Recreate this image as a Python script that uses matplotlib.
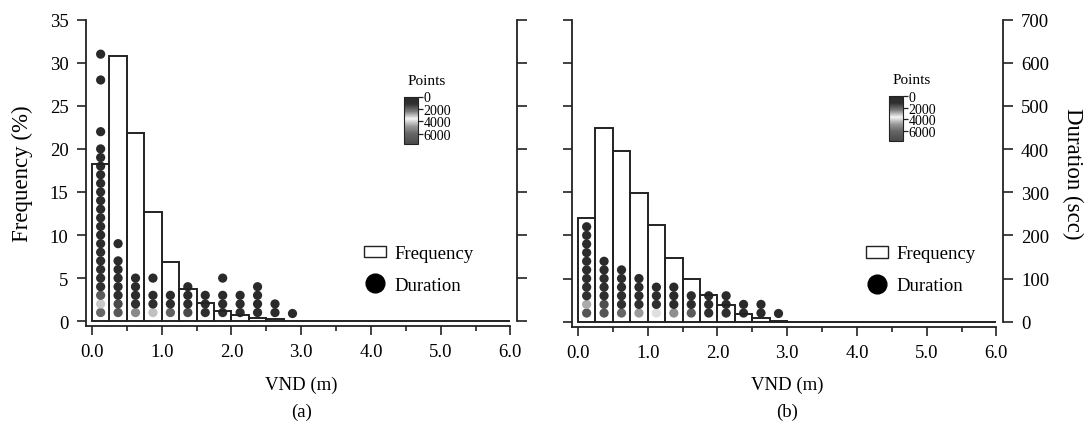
import numpy as np
import matplotlib
matplotlib.use('Agg')
import matplotlib.pyplot as plt
from matplotlib.colors import LinearSegmentedColormap, Normalize
from matplotlib.cm import ScalarMappable
from matplotlib.ticker import MultipleLocator, FormatStrFormatter
from matplotlib.patches import Patch
from matplotlib.lines import Line2D

plt.rcParams['font.family'] = ['Liberation Serif', 'DejaVu Serif']

# ── Data ──────────────────────────────────────────────────────────────────────
bin_edges = [0.0, 0.25, 0.5, 0.75, 1.0, 1.25, 1.5, 1.75, 2.0, 2.25, 2.5, 2.75,
             3.0, 3.25, 3.5, 3.75, 4.0, 4.25, 4.5, 4.75, 5.0, 5.25, 5.5, 5.75, 6.0]

# frequency (%) per VND bin
freq_a = [18.3, 30.8, 21.8, 12.7, 6.9, 3.7, 2.1, 1.2, 0.7, 0.4, 0.2, 0.05,
          0, 0, 0, 0, 0, 0, 0, 0, 0, 0, 0, 0]
freq_b = [12.0, 22.4, 19.8, 14.9, 11.2, 7.4, 5.0, 3.05, 1.9, 0.9, 0.4, 0.1,
          0, 0, 0, 0, 0, 0, 0, 0, 0, 0, 0, 0]

# durations (sec) observed in each bin, and number of points for each
dur_a = [
    [20, 40, 60, 80, 100, 120, 140, 160, 180, 200, 220, 240, 260, 280, 300,
     320, 340, 360, 380, 400, 440, 560, 620],
    [20, 40, 60, 80, 100, 120, 140, 180],
    [20, 40, 60, 80, 100],
    [20, 40, 60, 100],
    [20, 40, 60],
    [20, 40, 60, 80],
    [20, 40, 60],
    [20, 40, 60, 100],
    [20, 40, 60],
    [20, 40, 60, 80],
    [20, 40],
    [20],
]
pts_a = [
    [6000, 4200, 1900, 1100, 900, 800, 700, 600, 500, 450, 400, 350, 300, 260,
     220, 190, 160, 130, 110, 90, 60, 30, 20],
    [6900, 1600, 900, 600, 400, 250, 150, 60],
    [5200, 1000, 500, 300, 150],
    [4300, 800, 300, 80],
    [2000, 500, 200],
    [1600, 400, 200, 80],
    [1000, 300, 100],
    [800, 250, 100, 30],
    [600, 150, 50],
    [400, 100, 50, 20],
    [250, 60],
    [100],
]

dur_b = [
    [20, 40, 60, 80, 100, 120, 140, 160, 180, 200, 220],
    [20, 40, 60, 80, 100, 120, 140],
    [20, 40, 60, 80, 100, 120],
    [20, 40, 60, 80, 100],
    [20, 40, 60, 80],
    [20, 40, 60, 80],
    [20, 40, 60],
    [20, 40, 60],
    [20, 40, 60],
    [20, 40],
    [20, 40],
    [20],
]
pts_b = [
    [7000, 4600, 1000, 800, 600, 500, 400, 300, 200, 150, 100],
    [7000, 1700, 900, 600, 400, 250, 100],
    [6000, 1200, 800, 500, 300, 100],
    [4800, 1000, 600, 300, 100],
    [3900, 900, 400, 150],
    [2600, 700, 300, 100],
    [1900, 500, 150],
    [1200, 300, 80],
    [800, 200, 60],
    [500, 100],
    [300, 60],
    [100],
]

freq_ticks = [0, 5, 10, 15, 20, 25, 30, 35]
dur_ticks = [0, 100, 200, 300, 400, 500, 600, 700]
vnd_ticks = [0.0, 1.0, 2.0, 3.0, 4.0, 5.0, 6.0]
cbar_ticks = [0, 2000, 4000, 6000]

# ── Style ─────────────────────────────────────────────────────────────────────
INK = '#222222'
FS = 13.5        # x label, panel tags
FS_TICK = 13.5   # tick labels
FS_LEG = 13.5    # legend
FS_YLAB = 16.5   # vertical axis titles
points_cmap = LinearSegmentedColormap.from_list('points', [
    (0.0, '#2a2a2a'), (1200 / 7700, '#303030'), (2400 / 7700, '#7a7a7a'),
    (3600 / 7700, '#f5f5f5'), (4800 / 7700, '#9a9a9a'),
    (6000 / 7700, '#666666'), (1.0, '#4a4a4a')])
points_norm = Normalize(0, 7700)

XLIM = (-0.085, 6.095)
YLIM = (-0.56, 35)
DUR_SCALE = 20  # 1 % frequency <-> 20 s on the right axis

fig = plt.figure(figsize=(10.88, 4.35), dpi=100)
W, H = 1088, 435


def px_rect(x0, y0, x1, y1):
    return [x0 / W, 1 - y1 / H, (x1 - x0) / W, (y1 - y0) / H]


def panel(rect, freq, dur, pts, tag, left_labels, right_labels, cbar_px, leg_x):
    ax = fig.add_axes(rect)
    axr = ax.twinx()
    ax.set_zorder(axr.get_zorder() + 1)
    ax.patch.set_visible(False)

    edges = np.array(bin_edges)
    centers = (edges[:-1] + edges[1:]) / 2
    widths = np.diff(edges)

    # duration dots (right axis)
    for c, d, p in zip(centers, dur, pts):
        axr.scatter(np.full(len(d), c), d, c=p, cmap=points_cmap,
                    norm=points_norm, s=44, linewidths=0, zorder=2)

    # frequency histogram (left axis), hollow bars drawn over the dots
    ax.bar(edges[:-1], freq, width=widths, align='edge', facecolor='none',
           edgecolor=INK, linewidth=1.4, zorder=3)

    ax.set_xlim(*XLIM)
    ax.set_ylim(*YLIM)
    axr.set_ylim(YLIM[0] * DUR_SCALE, YLIM[1] * DUR_SCALE)

    for s in ['top', 'right']:
        ax.spines[s].set_visible(False)
    for s in ['top', 'left', 'bottom']:
        axr.spines[s].set_visible(False)
    for sp in [ax.spines['left'], ax.spines['bottom'], axr.spines['right']]:
        sp.set_linewidth(1.3)
        sp.set_color(INK)
    ax.spines['left'].set_bounds(YLIM[0], 35)
    ax.spines['bottom'].set_bounds(XLIM[0], 6.0)
    axr.spines['right'].set_bounds(0, 700)

    ax.set_xticks(vnd_ticks)
    ax.xaxis.set_major_formatter(FormatStrFormatter('%.1f'))
    ax.xaxis.set_minor_locator(MultipleLocator(0.5))
    ax.set_yticks(freq_ticks)
    axr.set_yticks(dur_ticks)
    ax.tick_params(which='major', direction='out', length=6.5, width=1.2,
                   color=INK, labelsize=FS_TICK, pad=6, labelleft=left_labels)
    ax.tick_params(which='minor', direction='out', length=3.5, width=1.2,
                   color=INK)
    axr.tick_params(direction='out', length=7, width=1.2, color=INK,
                    labelsize=FS_TICK, pad=6, labelright=right_labels)

    ax.set_xlabel('VND (m)', fontsize=FS, va='center')
    ax.xaxis.set_label_coords(0.5, -0.19)
    ax.text(0.5, -0.278, tag, transform=ax.transAxes, ha='center',
            va='center', fontsize=FS)
    if left_labels:
        ax.set_ylabel('Frequency (%)', fontsize=FS_YLAB, va='center')
        ax.yaxis.set_label_coords(-0.148, 0.5)
    if right_labels:
        axr.set_ylabel('Duration (scc)', fontsize=FS_YLAB, rotation=270,
                       va='center')
        axr.yaxis.set_label_coords(1.162, 0.5)

    # legend
    handles = [Patch(facecolor='white', edgecolor=INK, linewidth=1.0),
               Line2D([], [], marker='o', color='black', markersize=13.5,
                      linestyle='none')]
    ax.legend(handles, ['Frequency', 'Duration'], loc='center left',
              bbox_to_anchor=(leg_x, 0.185), frameon=False, fontsize=FS_LEG,
              handlelength=1.15, handleheight=0.58, handletextpad=0.45,
              labelspacing=0.78, borderpad=0, borderaxespad=0)

    # points colour bar
    x0, y0, x1, y1 = cbar_px
    cax = fig.add_axes(px_rect(x0, y0, x1, y1))
    cb = fig.colorbar(ScalarMappable(norm=points_norm, cmap=points_cmap),
                      cax=cax, ticks=cbar_ticks)
    cax.invert_yaxis()
    cb.outline.set_linewidth(0.8)
    cb.outline.set_edgecolor(INK)
    cax.tick_params(length=3.5, width=0.9, color=INK, labelsize=10, pad=0.5)
    fig.text((x1 + 8.5) / W, 1 - (y0 - 16) / H, 'Points', ha='center',
             va='center', fontsize=11)
    return ax


panel(px_rect(86, 20.7, 517, 327), freq_a, dur_a, pts_a, '(a)',
      True, False, (404, 97.5, 418, 145), 0.646)
panel(px_rect(572, 20.7, 1003, 327.5), freq_b, dur_b, pts_b, '(b)',
      False, True, (889, 97, 903, 142), 0.683)

fig.savefig('out.png', dpi=100)
